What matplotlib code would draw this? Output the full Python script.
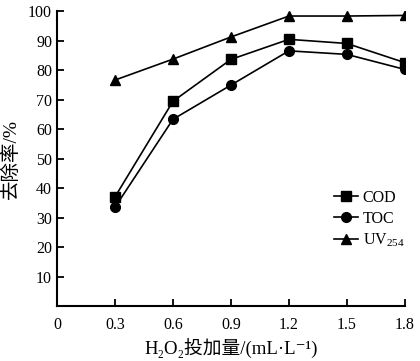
import numpy as np
import matplotlib
matplotlib.use("Agg")
import matplotlib.pyplot as plt

plt.rcParams['font.family'] = ['Liberation Serif', 'Noto Sans CJK SC', 'DejaVu Serif']
plt.rcParams['mathtext.fontset'] = 'custom'
plt.rcParams['mathtext.rm'] = 'Liberation Serif'
plt.rcParams['mathtext.it'] = 'Liberation Serif'

## dosage of H2O2 and removal rates
dose = [0.3, 0.6, 0.9, 1.2, 1.5, 1.8]
cod = [37.0, 69.4, 83.6, 90.4, 89.0, 82.5]
toc = [33.5, 63.3, 74.9, 86.5, 85.3, 80.2]
uv254 = [76.6, 83.7, 91.2, 98.3, 98.3, 98.5]

x_ticks = [0, 0.3, 0.6, 0.9, 1.2, 1.5, 1.8]
x_ticklabels = ['0', '0.3', '0.6', '0.9', '1.2', '1.5', '1.8']
y_ticks = [10, 20, 30, 40, 50, 60, 70, 80, 90, 100]

fig = plt.figure(figsize=(4.2, 3.61), dpi=100)
ax = fig.add_axes([0.1357, 0.152, 0.8283, 0.8175])

ax.plot(dose, cod, color='black', lw=1.2, marker='s', ms=7, label='COD')
ax.plot(dose, toc, color='black', lw=1.2, marker='o', ms=7, label='TOC')
ax.plot(dose, uv254, color='black', lw=1.2, marker='^', ms=7, label='UV$_{254}$')

ax.set_xlim(0, 1.8)
ax.set_ylim(0, 100)
ax.set_xticks(x_ticks)
ax.set_xticklabels(x_ticklabels)
ax.set_yticks(y_ticks)
ax.tick_params(direction='in', length=5, width=1.3, labelsize=11.5, colors='black')
ax.tick_params(axis='x', pad=8)
ax.xaxis.get_major_ticks()[0].tick1line.set_visible(False)

for s in ['top', 'right']:
    ax.spines[s].set_visible(False)
for s in ['left', 'bottom']:
    ax.spines[s].set_linewidth(1.5)

ax.set_ylabel('去除率/%', fontsize=14, labelpad=6)
ax.set_xlabel('H\u2082O\u2082投加量/(mL·L\u207b\u00b9)', fontsize=13.5, labelpad=4)

ax.legend(loc='lower right', bbox_to_anchor=(1.04, 0.145), frameon=False,
          fontsize=11.5, handlelength=1.5, handletextpad=0.3, labelspacing=0.3)

fig.savefig('out.png', dpi=100)
